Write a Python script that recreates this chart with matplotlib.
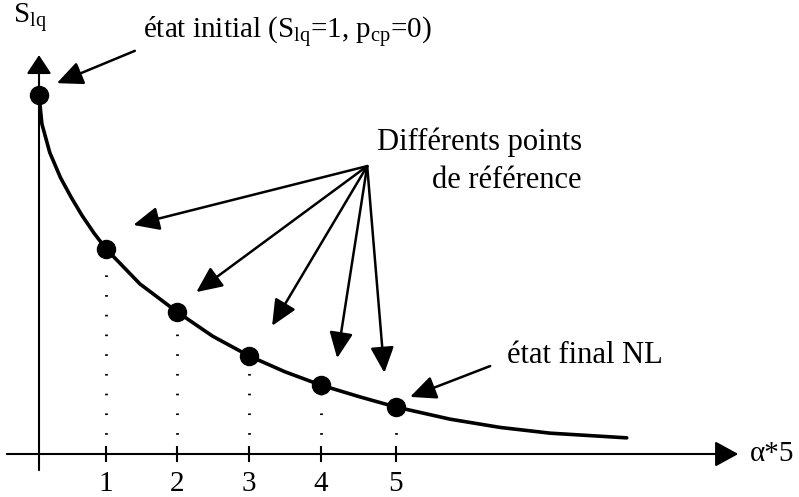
import matplotlib
matplotlib.use("Agg")
import matplotlib.pyplot as plt

plt.rcParams['font.family'] = ['Liberation Serif', 'DejaVu Serif']
plt.rcParams['mathtext.fontset'] = 'custom'
plt.rcParams['mathtext.rm'] = 'Liberation Serif'
plt.rcParams['mathtext.it'] = 'Liberation Serif:italic'

# curve S_lq vs alpha*5
curve_x = [0, 0.04, 0.15, 0.30, 0.45, 0.60, 0.77, 0.94, 1.41, 1.93, 2.43,
           2.94, 3.44, 3.94, 4.49, 4.99, 5.75, 6.45, 7.15, 8.22]
curve_s = [1.0, 0.92, 0.84, 0.77, 0.715, 0.665, 0.615, 0.571, 0.474, 0.396,
           0.328, 0.273, 0.229, 0.192, 0.159, 0.131, 0.097, 0.074, 0.058, 0.045]

# reference points
pts_x = [0, 0.94, 1.93, 2.94, 3.94, 4.99]
pts_s = [1.0, 0.571, 0.396, 0.273, 0.192, 0.131]
tick_labels = ['1', '2', '3', '4', '5']

# annotations
ref_origin = (4.59, 0.802)
ref_tips = [(1.32, 0.638), (2.20, 0.451), (3.26, 0.357), (4.17, 0.267), (4.83, 0.226)]
init_tail, init_tip = (1.34, 1.123), (0.25, 1.033)
final_tail, final_tip = (6.31, 0.245), (5.19, 0.159)

fig = plt.figure(figsize=(7.99, 4.97), dpi=100)
ax = fig.add_axes([0, 0, 1, 1])
ax.set_xlim(-39 / 71.5, 760 / 71.5)
ax.set_ylim(-43 / 359, 454 / 359)
ax.axis('off')

def arrow(tail, tip, hl, hw, lw):
    ax.annotate('', xy=tip, xytext=tail,
                arrowprops=dict(arrowstyle=f'-|>,head_length={hl},head_width={hw}',
                                mutation_scale=1, lw=lw, color='black',
                                shrinkA=0, shrinkB=0))

# axes with arrow heads
arrow((-0.45, 0), (9.78, 0), 14.4, 7.9, 1.5)
arrow((0, -0.045), (0, 1.111), 11.5, 7.6, 1.5)

# ticks on the x axis
ax.plot(pts_x[1:], [0] * 5, ls='none', marker='|', ms=11, mew=1.5, color='black')
for x, lab in zip(pts_x[1:], tick_labels):
    ax.text(x, -0.084, lab, ha='center', va='center', fontsize=21)

# dotted drop lines
ax.vlines(pts_x[1:], 0, pts_s[1:], colors='black', lw=2,
          linestyles=[(0, (0.6, 6.5))])

# curve and points
ax.plot(curve_x, curve_s, color='black', lw=2.6, solid_capstyle='round',
        solid_joinstyle='round')
ax.plot(pts_x, pts_s, 'o', ms=13, color='black', zorder=5)

# labels
ax.text(-0.12, 1.215, r'S$_{\mathrm{lq}}$', ha='center', va='center', fontsize=21)
ax.text(9.94, 0, 'α*5', ha='left', va='center', fontsize=21)
ax.text(1.46, 1.173, r'état initial (S$_{\mathrm{lq}}$=1, p$_{\mathrm{cp}}$=0)',
        ha='left', va='center', fontsize=21)
ax.text(7.59, 0.847, 'Différents points', ha='right', va='baseline', fontsize=22)
ax.text(7.59, 0.741, 'de référence', ha='right', va='baseline', fontsize=22)
ax.text(6.55, 0.253, 'état final NL', ha='left', va='baseline', fontsize=22)

# annotation arrows
arrow(init_tail, init_tip, 15.8, 7.2, 1.8)
for tip in ref_tips:
    arrow(ref_origin, tip, 15.8, 7.2, 1.8)
arrow(final_tail, final_tip, 15.8, 7.2, 1.8)

fig.savefig('out.png', dpi=100)
